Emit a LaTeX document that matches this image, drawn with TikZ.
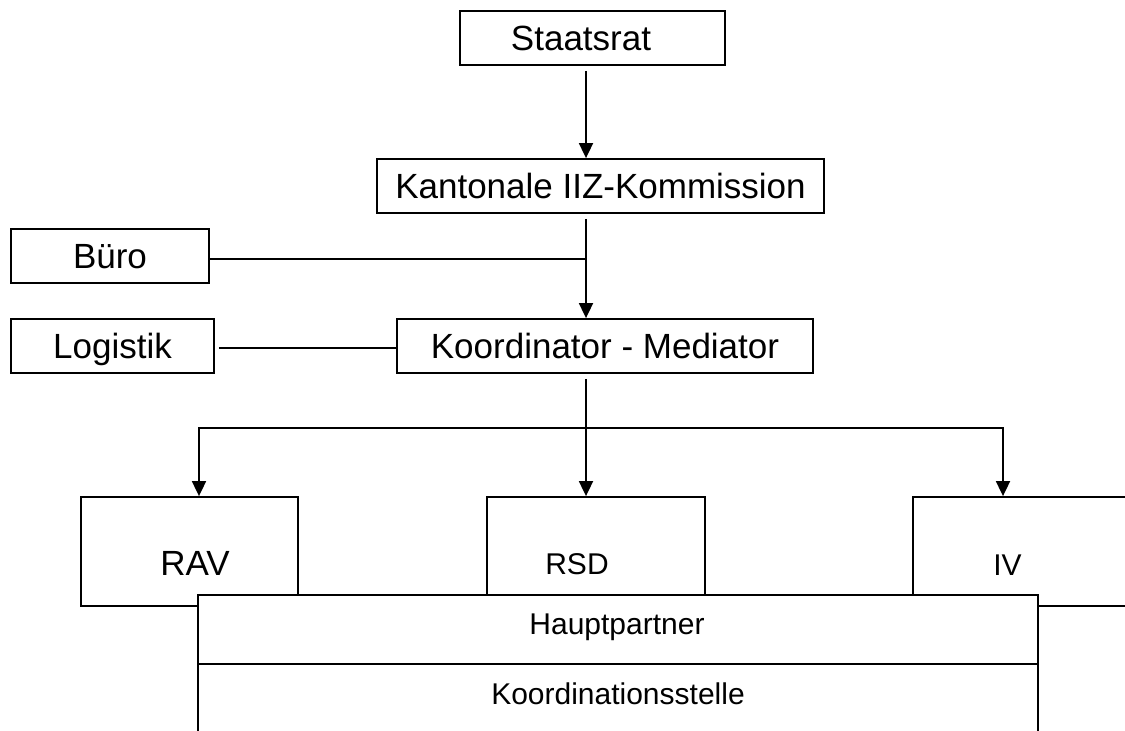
\documentclass[tikz,border=0pt]{standalone}
\usepackage{fontspec}
\setmainfont{Liberation Sans}
\usetikzlibrary{arrows.meta}
\begin{document}
\begin{tikzpicture}[x=1pt,y=-1pt,
  box/.style={draw, line width=1.8pt, fill=white, inner sep=0pt, text height=25pt, text depth=0pt, font=\fontsize{35}{42}\selectfont},
  plain/.style={draw, line width=1.8pt, fill=white, inner sep=0pt},
  lbl/.style={anchor=base, inner sep=0pt},
  big/.style={font=\fontsize{35}{42}\selectfont},
  small/.style={font=\fontsize{30}{36}\selectfont},
  conn/.style={line width=1.8pt},
  arr/.style={conn, -{Triangle[length=15pt,width=14pt]}}]
\useasboundingbox (0,0) rectangle (1125,731);
\clip (0,0) rectangle (1125,731);
\fill[white] (0,0) rectangle (1125,731);

% top boxes
\node[box, minimum width=265pt, minimum height=54pt] (staat) at (592.5,38) {};
\node[lbl,big] (staatt) at (581,50) {Staatsrat};
\node[box, minimum width=447pt, minimum height=54pt] (kant) at (600.5,186) {Kantonale IIZ-Kommission};
\node[box, minimum width=198pt, minimum height=54pt] (buero) at (110,256) {Büro};
\node[box, minimum width=203pt, minimum height=54pt] (logi) at (112.5,346) {Logistik};
\node[box, minimum width=416pt, minimum height=54pt] (koord) at (605,346) {Koordinator - Mediator};

% bottom boxes
\node[plain, minimum width=217pt, minimum height=109pt] (rav) at (189.5,551.5) {};
\node[plain, minimum width=218pt, minimum height=109pt] (rsd) at (596,551.5) {};
\node[plain, minimum width=240pt, minimum height=109pt] (iv) at (1033,551.5) {};
\node[lbl,big] (ravt) at (195,575) {RAV};
\node[lbl,small] (rsdt) at (577,574) {RSD};
\node[lbl,small] (ivt) at (1007.5,575) {IV};

\node[plain, line width=2pt, minimum width=840pt, minimum height=69pt] (hp) at (618,629.5) {};
\node[plain, line width=2pt, minimum width=840pt, minimum height=100pt] (ks) at (618,714) {};
\node[lbl,small] (hpt) at (617,634) {Hauptpartner};
\node[lbl,small] (kst) at (618,704) {Koordinationsstelle};

% connectors
\coordinate (ax) at (586,0);
\coordinate (bus) at (586,428);
\coordinate (ravx) at (199,0);
\coordinate (ivx) at (1003,0);
\draw[arr, shorten <=5pt] (staat.south -| ax) -- (kant.north -| ax);
\draw[arr, shorten <=5pt] (kant.south -| ax) -- (koord.north -| ax);
\draw[conn] ([yshift=-3pt]buero.east) -- ([yshift=-3pt]buero.east -| ax);
\draw[conn, shorten <=4pt] ([yshift=-2pt]logi.east) -- ([yshift=-2pt]logi.east -| koord.west);
\draw[conn, shorten <=5pt] (koord.south -| ax) -- (bus);
\draw[arr] (bus) -| (ravx |- rav.north);
\draw[arr] (bus) -- (rsd.north -| ax);
\draw[arr] (bus) -| (ivx |- iv.north);
\end{tikzpicture}
\end{document}
